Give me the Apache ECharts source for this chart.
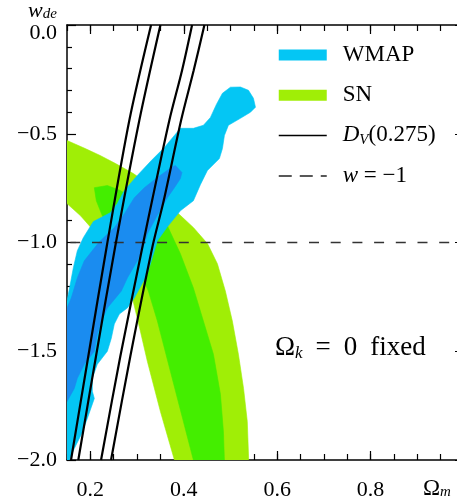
<!DOCTYPE html>
<html>
<head>
<meta charset="utf-8">
<script src="https://cdn.jsdelivr.net/npm/echarts@6/dist/echarts.min.js"></script>
<style>
html,body{margin:0;padding:0;background:#fff}
#chart{width:457px;height:502px}
</style>
</head>
<body>
<div id="chart"></div>
<script>
// Confidence regions in the (Omega_m, w_de) plane, vertices as [Omega_m, w_de]
const snOuter = [
  [0.150,-0.531],[0.189,-0.568],[0.221,-0.600],[0.254,-0.637],[0.292,-0.683],[0.329,-0.738],
  [0.361,-0.808],[0.389,-0.868],[0.421,-0.932],[0.451,-1.006],[0.472,-1.098],[0.489,-1.223],
  [0.504,-1.361],[0.517,-1.514],[0.528,-1.671],[0.536,-1.823],[0.539,-2.000],[0.380,-2.000],
  [0.350,-1.777],[0.322,-1.546],[0.307,-1.407],[0.290,-1.255],[0.269,-1.154],[0.243,-1.061],
  [0.211,-0.955],[0.179,-0.877],[0.150,-0.821]
];
const snInner = [
  [0.2085,-0.748],[0.2364,-0.738],[0.2642,-0.761],[0.3071,-0.821],[0.3392,-0.868],[0.3649,-0.923],
  [0.3928,-1.052],[0.4206,-1.209],[0.4420,-1.361],[0.4635,-1.514],[0.4785,-1.698],[0.4849,-1.869],
  [0.4870,-2.000],[0.4206,-2.000],[0.3992,-1.823],[0.3713,-1.592],[0.3435,-1.361],[0.3242,-1.223],
  [0.3028,-1.121],[0.2749,-1.029],[0.2471,-0.955],[0.2256,-0.877],[0.2128,-0.808]
];
const wmapOuter = [
  [0.4828,-0.314],[0.4999,-0.286],[0.5213,-0.285],[0.5385,-0.300],[0.5492,-0.337],[0.5535,-0.378],
  [0.5428,-0.401],[0.5213,-0.429],[0.4956,-0.461],[0.4870,-0.508],[0.4828,-0.568],[0.4763,-0.614],
  [0.4506,-0.669],[0.4356,-0.734],[0.4206,-0.808],[0.3928,-0.854],[0.3649,-0.928],[0.3435,-0.992],
  [0.3221,-1.144],[0.2942,-1.255],[0.2792,-1.301],[0.2621,-1.329],[0.2513,-1.375],[0.2449,-1.440],
  [0.2364,-1.500],[0.2149,-1.560],[0.2042,-1.624],[0.2042,-1.684],[0.2085,-1.717],[0.1935,-1.809],
  [0.1806,-1.883],[0.1656,-1.947],[0.1549,-2.000],[0.150,-2.000],[0.150,-1.269],[0.1571,-1.191],
  [0.1635,-1.117],[0.1721,-1.038],[0.1849,-0.978],[0.2064,-0.904],[0.2428,-0.863],[0.2578,-0.821],
  [0.2728,-0.761],[0.3006,-0.692],[0.3306,-0.623],[0.3585,-0.563],[0.3799,-0.508],[0.3928,-0.475],
  [0.4206,-0.475],[0.4421,-0.461],[0.4571,-0.425],[0.4699,-0.365]
];
const wmapInner = [
  [0.3821,-0.646],[0.3960,-0.678],[0.3928,-0.706],[0.3799,-0.748],[0.3649,-0.794],[0.3521,-0.840],
  [0.3371,-0.900],[0.3221,-0.960],[0.3156,-1.006],[0.3006,-1.084],[0.2792,-1.163],[0.2663,-1.223],
  [0.2364,-1.301],[0.2235,-1.361],[0.2149,-1.421],[0.2085,-1.500],[0.1871,-1.560],[0.1721,-1.624],
  [0.1656,-1.671],[0.150,-1.731],[0.150,-1.301],[0.1592,-1.255],[0.1721,-1.163],[0.1871,-1.084],
  [0.2192,-0.997],[0.2513,-0.932],[0.2728,-0.868],[0.2942,-0.794],[0.3156,-0.748],[0.3435,-0.701],
  [0.3735,-0.655]
];

// D_V(0.275) constraint curves
const dvLine1 = [[0.3300,0],[0.2835,-0.438],[0.2353,-1.015],[0.1956,-1.523],[0.1586,-2.0]];
const dvLine2 = [[0.3500,0],[0.3049,-0.438],[0.2535,-1.015],[0.2121,-1.523],[0.1742,-2.0]];
const dvLine3 = [[0.4178,0],[0.3964,-0.208],[0.3692,-0.438],[0.3321,-0.808],[0.3120,-1.015],[0.2642,-1.523],[0.2229,-2.0]];
const dvLine4 = [[0.4442,0],[0.4213,-0.208],[0.3943,-0.438],[0.3570,-0.808],[0.3334,-1.015],[0.2856,-1.523],[0.2443,-2.0]];

// Cosmological-constant reference w = -1
const wLambda = [[0.15,-1],[1.0,-1]];

// Axis ticks
const xMajorTicks = [0.2,0.4,0.6,0.8,1.0];
const xTickLabels = [0.2,0.4,0.6,0.8];

const SERIF = 'Liberation Serif, Times New Roman, serif';
const colors = {
  wmapOuter: '#04c6f4',
  wmapInner: '#1a8cf0',
  snOuter: '#a0ee06',
  snInner: '#44ee00'
};

function polygonSeries(name, points, color) {
  return {
    type: 'custom',
    name: name,
    coordinateSystem: 'cartesian2d',
    xAxisIndex: 0,
    yAxisIndex: 0,
    clip: true,
    silent: true,
    itemStyle: { color: color },
    encode: { x: 0, y: 1 },
    data: points,
    renderItem: function (params, api) {
      if (params.context.rendered) return;
      params.context.rendered = true;
      const pts = points.map(function (p) { return api.coord(p); });
      return {
        type: 'polygon',
        shape: { points: pts },
        style: { fill: color, stroke: color, lineWidth: 0.6 }
      };
    }
  };
}

function dvSeries(data) {
  return {
    type: 'line', name: 'DV', data: data, symbol: 'none', smooth: 0.3,
    xAxisIndex: 0, yAxisIndex: 0, clip: true, silent: true,
    lineStyle: { color: '#000', width: 2.2 }, z: 4
  };
}

const tickStyle = { color: '#000', width: 1.2 };
const frameLine = { onZero: false, lineStyle: { color: '#000', width: 1.5 } };

function minorX(pos) {
  return {
    type: 'value', position: pos, min: 0.15, max: 1.0, interval: 0.05,
    axisLine: frameLine,
    axisTick: { inside: true, length: 6, lineStyle: tickStyle },
    axisLabel: { show: false }, splitLine: { show: false }
  };
}
function majorX(pos, labels) {
  return {
    type: 'value', position: pos, min: 0.15, max: 1.0,
    axisLine: { show: false, onZero: false },
    axisTick: { inside: true, length: 9, customValues: xMajorTicks, lineStyle: tickStyle },
    axisLabel: labels ? {
      customValues: xTickLabels,
      formatter: function (v) { return v.toFixed(1); },
      margin: 19, fontFamily: SERIF, fontSize: 22, color: '#000'
    } : { show: false },
    splitLine: { show: false }
  };
}
function yAx(pos, labels) {
  return {
    type: 'value', position: pos, min: -2, max: 0, interval: 0.5,
    axisLine: frameLine,
    axisTick: { inside: true, length: 9, lineStyle: tickStyle },
    minorTick: { show: true, splitNumber: 5, length: 5, lineStyle: tickStyle },
    axisLabel: labels ? {
      margin: 10, fontFamily: SERIF, fontSize: 22, color: '#000',
      formatter: function (v) {
        if (v === 0) return '{top|0.0}';
        return v.toFixed(1).replace('-', '\u2212');
      },
      rich: { top: { fontFamily: SERIF, fontSize: 22, color: '#000', padding: [16, 0, 0, 0] } }
    } : { show: false },
    splitLine: { show: false }
  };
}

const chart = echarts.init(document.getElementById('chart'), null, { renderer: 'canvas' });
chart.setOption({
  animation: false,
  backgroundColor: '#fff',
  grid: { left: 67, top: 25, right: -7, bottom: 42, containLabel: false, outerBoundsMode: 'none' },
  xAxis: [minorX('bottom'), majorX('bottom', true), minorX('top'), majorX('top', false)],
  yAxis: [yAx('left', true), yAx('right', false)],
  legend: {
    orient: 'vertical', left: 278, top: 43.5, padding: 0, itemGap: 17.2,
    itemWidth: 48, itemHeight: 11, selectedMode: false,
    data: [
      { name: 'WMAP', icon: 'rect' },
      { name: 'SN', icon: 'rect' },
      { name: 'DV', itemStyle: { opacity: 0 }, lineStyle: { width: 1.5, color: '#000' } },
      { name: 'w', itemStyle: { opacity: 0 }, lineStyle: { width: 1.5, color: '#222', type: [13, 8], dashOffset: 0 } }
    ],
    formatter: function (name) {
      if (name === 'DV') return '{i|D}{s|V}{t|(0.275)}';
      if (name === 'w') return '{i|w}{t| = \u22121}';
      return '{t|' + name + '}';
    },
    textStyle: {
      fontFamily: SERIF, fontSize: 23, color: '#000', padding: [0, 0, 0, 11],
      rich: {
        t: { fontFamily: SERIF, fontSize: 23, color: '#000', lineHeight: 24 },
        i: { fontFamily: SERIF, fontSize: 23, fontStyle: 'italic', color: '#000', lineHeight: 24 },
        s: { fontFamily: SERIF, fontSize: 15, fontStyle: 'italic', color: '#000', lineHeight: 14, verticalAlign: 'bottom' }
      }
    }
  },
  graphic: [
    {
      type: 'text', left: 28, top: 0, silent: true,
      style: {
        text: '{w|w}{s|de}',
        rich: {
          w: { fontFamily: SERIF, fontSize: 22, fontStyle: 'italic', fill: '#000', lineHeight: 22 },
          s: { fontFamily: SERIF, fontSize: 15, fontStyle: 'italic', fill: '#000', lineHeight: 15, verticalAlign: 'bottom' }
        }
      }
    },
    {
      type: 'text', left: 423, top: 477, silent: true,
      style: {
        text: '{o|\u03A9}{m|m}',
        rich: {
          o: { fontFamily: SERIF, fontSize: 23, fill: '#000', lineHeight: 22 },
          m: { fontFamily: SERIF, fontSize: 15, fontStyle: 'italic', fill: '#000', lineHeight: 15, verticalAlign: 'bottom' }
        }
      }
    },
    {
      type: 'text', left: 275, top: 334, silent: true,
      style: {
        text: '{o|\u03A9}{k|k}{e|=}{z|0}{f|fixed}',
        rich: {
          o: { fontFamily: SERIF, fontSize: 27, fill: '#000', lineHeight: 30 },
          k: { fontFamily: SERIF, fontSize: 17, fontStyle: 'italic', fill: '#000', lineHeight: 17, verticalAlign: 'bottom' },
          e: { fontFamily: SERIF, fontSize: 27, fill: '#000', lineHeight: 30, padding: [0, 0, 0, 13] },
          z: { fontFamily: SERIF, fontSize: 27, fill: '#000', lineHeight: 30, padding: [0, 0, 0, 13] },
          f: { fontFamily: SERIF, fontSize: 27, fill: '#000', lineHeight: 30, padding: [0, 0, 0, 13] }
        }
      }
    }
  ],
  series: [
    polygonSeries('SN', snOuter, colors.snOuter),
    polygonSeries('SN', snInner, colors.snInner),
    polygonSeries('WMAP', wmapOuter, colors.wmapOuter),
    polygonSeries('WMAP', wmapInner, colors.wmapInner),
    {
      type: 'line', name: 'w', data: wLambda, symbol: 'none',
      xAxisIndex: 0, yAxisIndex: 0, silent: true, z: 3,
      lineStyle: { color: '#333', width: 1.5, type: [10, 11.7], dashOffset: 18.4 }
    },
    dvSeries(dvLine1), dvSeries(dvLine2), dvSeries(dvLine3), dvSeries(dvLine4)
  ]
});
</script>
</body>
</html>
